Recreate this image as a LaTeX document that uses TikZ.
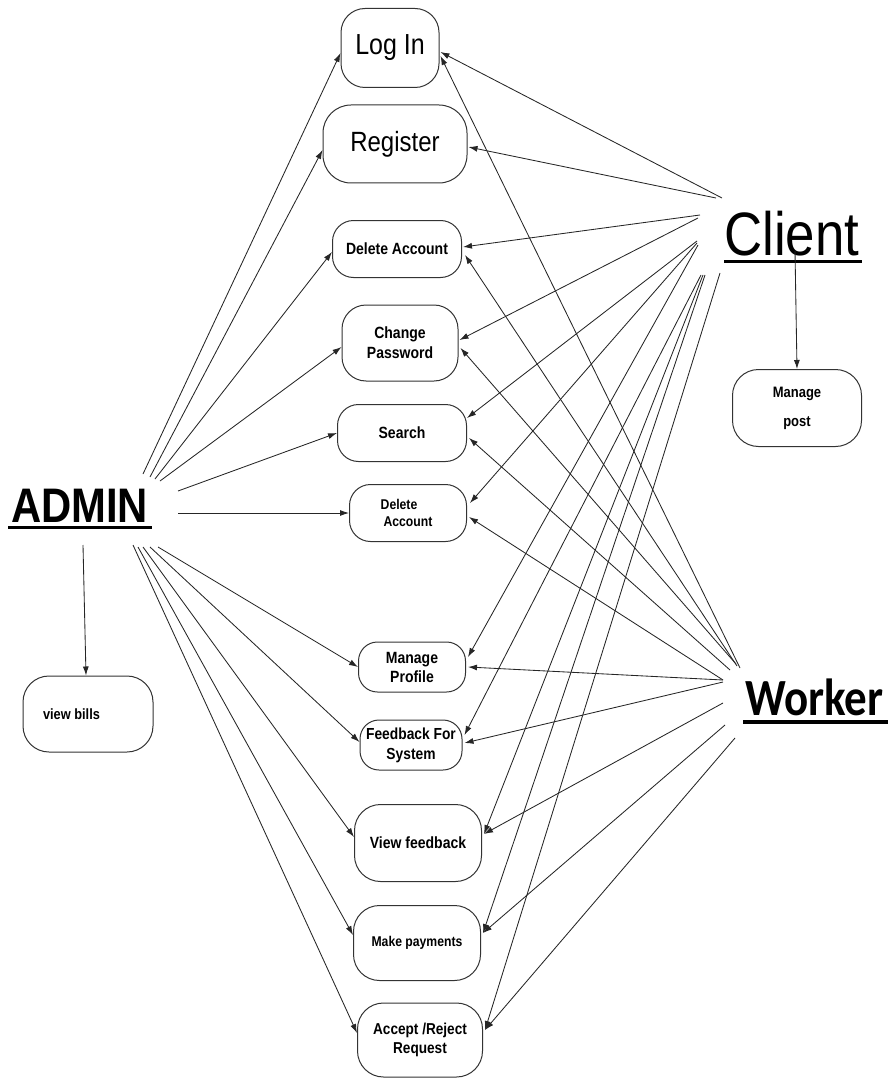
\documentclass[tikz,border=0pt]{standalone}
\usepackage{fontspec}
\setmainfont{Liberation Sans}
\newfontfamily\calibfont{Carlito}
\usetikzlibrary{arrows.meta,calc}
\newcommand\vs[1]{\scalebox{1}[1.16]{#1}}
\begin{document}
\begin{tikzpicture}[x=1pt,y=-1pt,
  box/.style={draw=black!80, line width=1pt, rounded corners=#1, inner sep=0pt, align=center},
  box/.default=26pt,
  conn/.style={draw=black!85, line width=0.85pt, -{Latex[length=9pt,width=6pt]}},
  actor/.style={anchor=base west, inner sep=0pt},
  uline/.style={line width=3pt}]
\useasboundingbox (0,0) rectangle (895,1078);

% use case boxes
\node[box=24pt, minimum width=98pt, minimum height=79pt, font=\fontsize{25}{30}\selectfont] (login) at (390,48) {\vs{Log In}};
\node[box=28pt, minimum width=144pt, minimum height=78pt, font=\fontsize{24}{29}\selectfont] (register) at (395,144) {\vs{Register}};
\node[box=21pt, minimum width=129pt, minimum height=57pt, font=\bfseries\fontsize{14}{20}\selectfont] (del1) at (397,249) {\vs{Delete Account}};
\node[box=24pt, minimum width=116pt, minimum height=76pt, font=\bfseries\fontsize{14}{20}\selectfont] (chpw) at (400,343) {\vs{Change}\\\vs{Password}};
\node[box=21pt, minimum width=129pt, minimum height=57pt, font=\bfseries\fontsize{14}{20}\selectfont] (search) at (402,433) {\vs{Search}};
\node[box=21pt, minimum width=117pt, minimum height=57pt, font=\bfseries\fontsize{12.2}{17}\selectfont] (del2) at (408,513) {\vs{Delete}\hspace*{18pt}\\\vs{Account}};
\node[box=19pt, minimum width=107pt, minimum height=50pt, font=\bfseries\fontsize{14}{19}\selectfont] (manprof) at (412,667) {\vs{Manage}\\\vs{Profile}};
\node[box=19pt, minimum width=102pt, minimum height=50pt, font=\bfseries\fontsize{13.8}{20}\selectfont] (feedback) at (411,745) {\vs{Feedback For}\\\vs{System}};
\node[box, minimum width=127pt, minimum height=77pt, font=\bfseries\fontsize{14}{20}\selectfont] (viewfb) at (418,843) {\vs{View feedback}};
\node[box, minimum width=127pt, minimum height=75pt, font=\bfseries\fontsize{12.2}{20}\selectfont] (makepay) at (417,943) {\vs{Make payments}};
\node[box, minimum width=125pt, minimum height=74pt, font=\bfseries\fontsize{13.6}{19}\selectfont] (accrej) at (420,1040) {\vs{Accept /Reject}\\\vs{Request}};
\node[box, minimum width=129pt, minimum height=77pt, font=\bfseries\fontsize{13}{29}\selectfont] (manpost) at (797,408) {\vs{Manage}\\\vs{post}};
\node[box, minimum width=130pt, minimum height=76pt, font=\bfseries\fontsize{12.8}{18}\selectfont] (bills) at (88,714) {\vs{view bills}\hspace*{33pt}};

% actors
\node[actor, font=\bfseries\fontsize{41.8}{50}\selectfont] (admin) at (11,522) {\vs{ADMIN}};
\node[actor, font=\fontsize{52.8}{60}\selectfont] (client) at (724,255) {\vs{Client}};
\node[actor, font=\calibfont\bfseries\fontsize{45}{54}\selectfont] (worker) at (745,715) {\vs{Worker}};
\draw[uline] ($(admin.base west)+(-3,5)$) -- ($(admin.base east)+(4,5)$);
\draw[uline] ($(client.base west)+(0,6)$) -- ($(client.base east)+(3,6)$);
\draw[uline, line width=3.5pt] ($(worker.base west)+(-2,7)$) -- ($(worker.base east)+(4,7)$);

% ADMIN start points
\coordinate (aLogin) at (143,474);
\coordinate (aReg) at (150,477);
\coordinate (aDel1) at (155,479);
\coordinate (aChpw) at (160,481);
\coordinate (aSearch) at (178,491);
\coordinate (aDel2) at (178,513);
\coordinate (aBills) at (83,545);
\coordinate (aManprof) at (158,547);
\coordinate (aFeed) at (150,547);
\coordinate (aViewfb) at (143,547);
\coordinate (aMakepay) at (138,547);
\coordinate (aAccrej) at (133,545);

% Client start points
\coordinate (cLogin) at (722,198);
\coordinate (cReg) at (716,198);
\coordinate (cDel1) at (700,215);
\coordinate (cChpw) at (698,218);
\coordinate (cSearch) at (697,241);
\coordinate (cDel2) at (697,243);
\coordinate (cManprof) at (698,245);
\coordinate (cFeed) at (701,275);
\coordinate (cViewfb) at (703,275);
\coordinate (cMakepay) at (705,275);
\coordinate (cAccrej) at (720,273);
\coordinate (cPost) at (795,251);

% Worker start points
\coordinate (wLogin) at (740,668);
\coordinate (wDel1) at (737,666);
\coordinate (wChpw) at (736,664);
\coordinate (wSearch) at (730,670);
\coordinate (wDel2) at (723,680);
\coordinate (wManprof) at (723,680);
\coordinate (wFeed) at (723,682);
\coordinate (wViewfb) at (723,703);
\coordinate (wMakepay) at (725,725);
\coordinate (wAccrej) at (735,738);

% ADMIN connectors
\draw[conn] (aLogin) -- ($(login.west)+(0,5)$);
\draw[conn] (aReg) -- ($(register.west)+(0,6)$);
\draw[conn] (aDel1) -- ($(del1.west)+(0,3)$);
\draw[conn] (aChpw) -- ($(chpw.west)+(0,4)$);
\draw[conn] (aSearch) -- (search.west);
\draw[conn] (aDel2) -- (del2.west);
\draw[conn] (aBills) -- ($(bills.north)+(-2,0)$);
\draw[conn] (aManprof) -- (manprof.west);
\draw[conn] (aFeed) -- ($(feedback.west)+(0,-3)$);
\draw[conn] (aViewfb) -- ($(viewfb.west)+(0,-6)$);
\draw[conn] (aMakepay) -- ($(makepay.west)+(0,-8)$);
\draw[conn] (aAccrej) -- ($(accrej.west)+(0,-7)$);

% Client connectors
\draw[conn] (cLogin) -- ($(login.east)+(1,4)$);
\draw[conn] (cReg) -- ($(register.east)+(1,3)$);
\draw[conn] (cDel1) -- ($(del1.east)+(1,-2)$);
\draw[conn] (cChpw) -- ($(chpw.east)+(1,-3)$);
\draw[conn] (cSearch) -- ($(search.east)+(0,-15)$);
\draw[conn] (cDel2) -- ($(del2.east)+(3,-10)$);
\draw[conn] (cManprof) -- ($(manprof.east)+(2,-10)$);
\draw[conn] (cFeed) -- ($(feedback.east)+(2,-10)$);
\draw[conn] (cViewfb) -- ($(viewfb.east)+(2,-9)$);
\draw[conn] (cMakepay) -- ($(makepay.east)+(2,-10)$);
\draw[conn] (cAccrej) -- ($(accrej.east)+(2,-10)$);
\draw[conn] (cPost) -- (manpost.north);

% Worker connectors
\draw[conn] (wLogin) -- ($(login.east)+(1,8)$);
\draw[conn] (wDel1) -- ($(del1.east)+(3,6)$);
\draw[conn] (wChpw) -- ($(chpw.east)+(2,5)$);
\draw[conn] (wSearch) -- ($(search.east)+(2,5)$);
\draw[conn] (wDel2) -- ($(del2.east)+(2,4)$);
\draw[conn] (wManprof) -- ($(manprof.east)+(2,0)$);
\draw[conn] (wFeed) -- ($(feedback.east)+(2,-2)$);
\draw[conn] (wViewfb) -- ($(viewfb.east)+(2,-9)$);
\draw[conn] (wMakepay) -- ($(makepay.east)+(2,-10)$);
\draw[conn] (wAccrej) -- ($(accrej.east)+(2,-10)$);
\end{tikzpicture}
\end{document}
